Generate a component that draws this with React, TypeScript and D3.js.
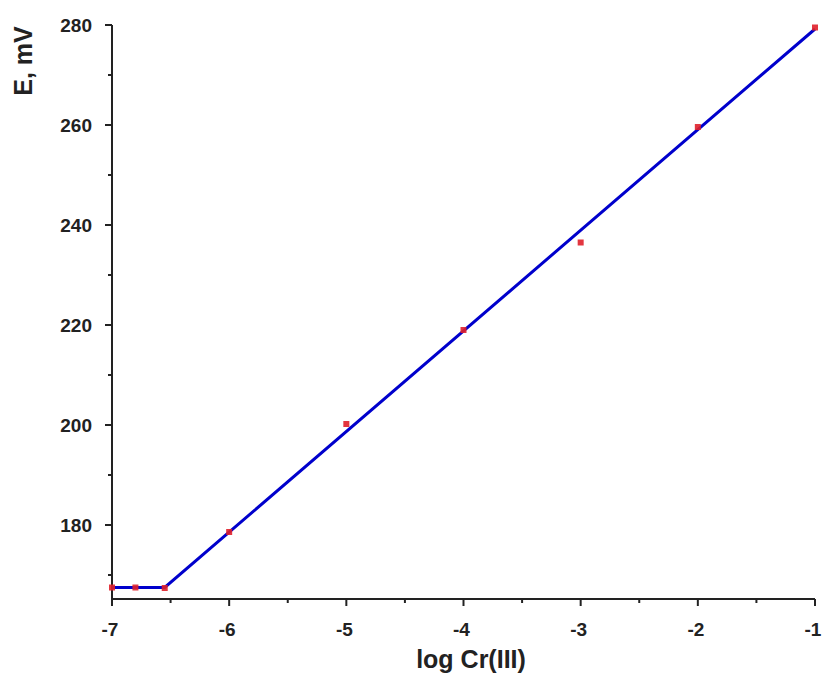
import React from "react";
import * as d3 from "d3";

const pointX = [-7, -6.8, -6.55, -6, -5, -4, -3, -2, -1];
const pointY = [167.5, 167.5, 167.4, 178.6, 200.2, 219.0, 236.5, 259.6, 279.5];
const fitX = [-7, -6.55, -1];
const fitY = [167.5, 167.5, 279.2];
const xTicks = [-7, -6, -5, -4, -3, -2, -1];
const xMinor = [-6.5, -5.5, -4.5, -3.5, -2.5, -1.5];
const yTicks = [180, 200, 220, 240, 260, 280];
const yMinor = [170, 190, 210, 230, 250, 270];

export default function App() {
  const W = 822, H = 681;
  const left = 112, right = 815, top = 25, bottom = 599;
  const x = d3.scaleLinear().domain([-7, -1]).range([left, right]);
  const y = d3.scaleLinear().domain([165.2, 280]).range([bottom, top]);
  const line = d3.line<number>().x((d) => x(fitX[d])).y((d) => y(fitY[d]));
  const font = "Arial, 'Liberation Sans', sans-serif";
  return (
    <svg width={W} height={H} style={{ position: "absolute", left: 0, top: 0 }} fontFamily={font}>
      <rect width={W} height={H} fill="#fff" />
      {/* axes */}
      <line x1={left} x2={left} y1={top} y2={bottom} stroke="#222" strokeWidth={2} />
      <line x1={left} x2={right} y1={bottom} y2={bottom} stroke="#222" strokeWidth={2} />
      {yTicks.map((t) => (
        <g key={"y" + t}>
          <line x1={left - 7} x2={left} y1={y(t)} y2={y(t)} stroke="#222" strokeWidth={2} />
          <text x={left - 20} y={y(t)} dy="0.35em" textAnchor="end" fontSize={19} fontWeight="bold" fill="#222">
            {t}
          </text>
        </g>
      ))}
      {yMinor.map((t) => (
        <line key={"ym" + t} x1={left - 4} x2={left} y1={y(t)} y2={y(t)} stroke="#222" strokeWidth={2} />
      ))}
      {xTicks.map((t) => (
        <g key={"x" + t}>
          <line x1={x(t)} x2={x(t)} y1={bottom} y2={bottom + 7} stroke="#222" strokeWidth={2} />
          <text x={x(t) - 2} y={636} textAnchor="middle" fontSize={19} fontWeight="bold" fill="#222">
            {t}
          </text>
        </g>
      ))}
      {xMinor.map((t) => (
        <line key={"xm" + t} x1={x(t)} x2={x(t)} y1={bottom} y2={bottom + 4} stroke="#222" strokeWidth={2} />
      ))}
      {/* fit line */}
      <path d={line(fitX.map((_, i) => i)) || ""} fill="none" stroke="#0000cc" strokeWidth={3} />
      {/* points */}
      {pointX.map((px, i) => (
        <rect key={"p" + i} x={x(px) - 3} y={y(pointY[i]) - 3} width={6} height={6} fill="#e0202a" opacity={0.9} />
      ))}
      {/* titles */}
      <text x={471} y={668} textAnchor="middle" fontSize={25} fontWeight="bold" fill="#222">
        log Cr(III)
      </text>
      <text transform={`translate(32,61) rotate(-90)`} textAnchor="middle" fontSize={25} fontWeight="bold" fill="#222">
        E, mV
      </text>
    </svg>
  );
}
